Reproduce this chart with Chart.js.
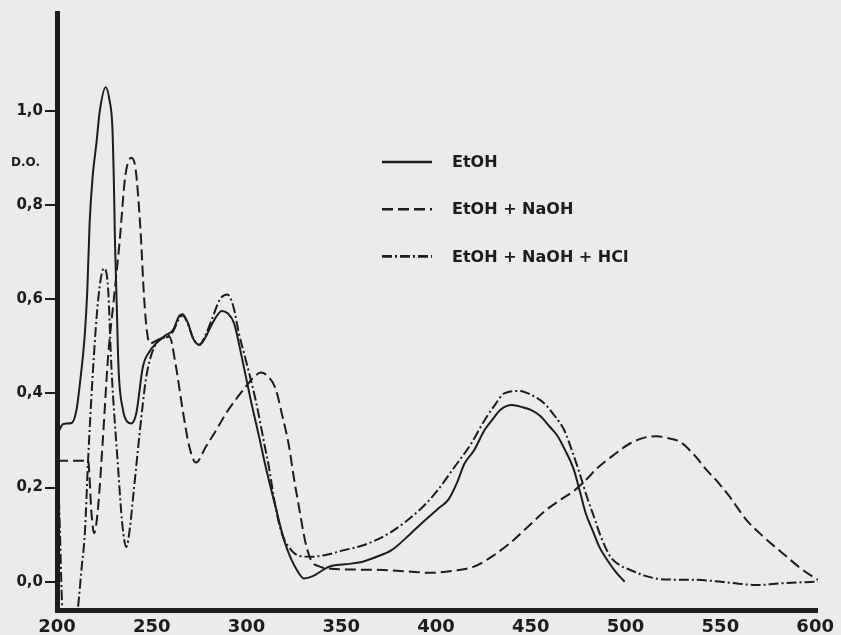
<!DOCTYPE html>
<html>
<head>
<meta charset="utf-8">
<script src="https://cdn.jsdelivr.net/npm/chart.js@4.4.1/dist/chart.umd.min.js"></script>
<style>
  html, body { margin: 0; padding: 0; background: #ebebea; }
  #wrap { width: 841px; height: 635px; }
</style>
</head>
<body>
<div id="wrap"><canvas id="spectre" width="841" height="635"></canvas></div>
<script>
// axes
const X_TICKS = [200, 250, 300, 350, 400, 450, 500, 550, 600];
const Y_TICKS = [0, 0.2, 0.4, 0.6, 0.8, 1.0];

// EtOH (solid)
const ETOH_NM = [200, 203.3, 207.7, 210.3, 212.1, 214.7, 216, 217.2, 218.8, 220.8, 222.6, 225.7, 227.8, 229.2, 230, 230.6, 231.5, 232.5, 234.8, 237, 239.2, 241.8, 245.3, 249, 252.3, 257.6, 261, 264.6, 266.3, 269, 272, 275.1, 278.5, 282, 287, 290, 293.4, 297.8, 302.2, 306.6, 310.1, 315.3, 319, 322.3, 327.6, 330.2, 335, 343.6, 352, 360.8, 368, 376.5, 386, 394, 401, 406.6, 411, 415, 419.9, 425.6, 429.5, 434, 440, 446, 450.5, 455, 460, 464, 468, 472.5, 476, 479, 483, 486, 491, 495, 499.5];
const ETOH_DO = [0.311, 0.335, 0.337, 0.365, 0.421, 0.527, 0.62, 0.76, 0.86, 0.931, 1.0, 1.05, 1.02, 0.966, 0.85, 0.72, 0.59, 0.45, 0.365, 0.34, 0.336, 0.357, 0.456, 0.49, 0.506, 0.524, 0.533, 0.565, 0.568, 0.55, 0.515, 0.503, 0.52, 0.549, 0.575, 0.57, 0.549, 0.471, 0.386, 0.308, 0.244, 0.159, 0.1, 0.06, 0.018, 0.007, 0.012, 0.032, 0.037, 0.042, 0.052, 0.067, 0.1, 0.13, 0.155, 0.175, 0.21, 0.251, 0.278, 0.322, 0.343, 0.365, 0.375, 0.37, 0.364, 0.352, 0.329, 0.31, 0.28, 0.24, 0.19, 0.145, 0.105, 0.075, 0.042, 0.02, 0.0];

// EtOH + NaOH (dashed)
const NAOH_NM = [200, 208, 216.4, 218.2, 219.6, 221.7, 224, 227, 230, 233, 236, 239.2, 241.5, 244, 246, 247.5, 249, 254, 259.3, 262.8, 266.3, 269.8, 273.3, 278.6, 284, 289.1, 294, 299.6, 304, 307.5, 311, 315.3, 319, 322.3, 325, 327.6, 331, 334, 338, 343.6, 355, 372.2, 385, 397, 410, 420, 430, 439, 448, 458, 466, 473.4, 480, 485, 494, 502.5, 510, 516.5, 522, 528.8, 536, 542.8, 549, 555, 563.8, 572.6, 583, 593.5, 601.4];
const NAOH_DO = [0.257, 0.257, 0.257, 0.145, 0.103, 0.159, 0.29, 0.48, 0.6, 0.72, 0.86, 0.9, 0.875, 0.75, 0.6, 0.53, 0.506, 0.515, 0.52, 0.456, 0.365, 0.287, 0.253, 0.287, 0.322, 0.357, 0.385, 0.414, 0.435, 0.444, 0.437, 0.41, 0.35, 0.29, 0.22, 0.16, 0.085, 0.046, 0.033, 0.028, 0.026, 0.025, 0.022, 0.019, 0.024, 0.032, 0.055, 0.082, 0.115, 0.152, 0.175, 0.195, 0.22, 0.241, 0.27, 0.294, 0.306, 0.309, 0.305, 0.297, 0.27, 0.237, 0.21, 0.18, 0.131, 0.096, 0.06, 0.025, 0.004];

// EtOH + NaOH + HCl (dash-dot)
const HCL_NM = [200, 200.8, 201.6, 202.5, 204, 209, 211.2, 213, 214.7, 216.4, 219.1, 221.7, 224.7, 226.9, 228.7, 232.2, 234.5, 236.6, 238.5, 240, 243.6, 247.1, 252.3, 257.6, 261, 264.6, 266.3, 269, 272, 275.1, 278.5, 282, 286, 289.9, 293, 296, 299.6, 304.8, 310, 311.8, 315, 318.8, 322.3, 327.6, 334, 343, 350.3, 362, 376, 392, 400, 409.8, 418, 425.6, 431, 436, 443.9, 450, 457, 462, 467.6, 472, 476.3, 480, 483.3, 487, 492, 497, 502.5, 510, 520, 537.5, 555, 569, 583, 601.4];
const HCL_DO = [0.25, 0.2, 0.1, -0.03, -0.12, -0.12, -0.05, 0.03, 0.103, 0.258, 0.456, 0.598, 0.665, 0.626, 0.456, 0.244, 0.12, 0.074, 0.115, 0.173, 0.315, 0.435, 0.506, 0.52, 0.53, 0.56, 0.565, 0.548, 0.515, 0.503, 0.525, 0.56, 0.6, 0.61, 0.585, 0.527, 0.471, 0.386, 0.28, 0.244, 0.165, 0.1, 0.074, 0.055, 0.053, 0.058, 0.066, 0.078, 0.105, 0.155, 0.19, 0.244, 0.29, 0.343, 0.375, 0.4, 0.405, 0.397, 0.379, 0.355, 0.322, 0.275, 0.223, 0.175, 0.138, 0.095, 0.053, 0.035, 0.025, 0.013, 0.005, 0.004, -0.002, -0.007, -0.003, 0.0];

const INK = '#1c1c1c';
const FONT = 'DejaVu Sans';

function pts(xs, ys) {
  return xs.map((x, i) => ({ x, y: ys[i] }));
}

// hand-lettered annotations: "D.O." and the legend block
const annotations = {
  id: 'annotations',
  afterDatasetsDraw(chart) {
    const ctx = chart.ctx;
    ctx.save();
    ctx.fillStyle = INK;
    ctx.textBaseline = 'middle';
    ctx.font = 'bold 12px "' + FONT + '"';
    ctx.fillText('D.O.', 11, chart.scales.y.getPixelForValue(0.89));

    ctx.font = 'bold 16px "' + FONT + '"';
    chart.data.datasets.forEach((ds, i) => {
      const ly = 162 + i * 47.2;
      ctx.strokeStyle = ds.borderColor;
      ctx.lineWidth = 2.6;
      ctx.setLineDash(ds.borderDash || []);
      ctx.beginPath();
      ctx.moveTo(382, ly);
      ctx.lineTo(432, ly);
      ctx.stroke();
      ctx.setLineDash([]);
      ctx.fillText(ds.label, 452, ly + 1);
    });
    ctx.restore();
  }
};

const line = (label, data, dash) => ({
  label,
  data,
  borderColor: INK,
  borderWidth: 2,
  borderDash: dash,
  pointRadius: 0,
  fill: false,
  cubicInterpolationMode: 'monotone'
});

new Chart(document.getElementById('spectre'), {
  type: 'line',
  data: {
    datasets: [
      line('EtOH', pts(ETOH_NM, ETOH_DO), []),
      line('EtOH + NaOH', pts(NAOH_NM, NAOH_DO), [11, 5]),
      line('EtOH + NaOH + HCl', pts(HCL_NM, HCL_DO), [10, 3, 2, 3])
    ]
  },
  options: {
    responsive: false,
    animation: false,
    devicePixelRatio: 1,
    layout: { padding: { top: 13, right: 19, left: 0, bottom: 0 } },
    plugins: { legend: { display: false }, tooltip: { enabled: false } },
    scales: {
      x: {
        type: 'linear',
        min: 200,
        max: 601.5,
        afterBuildTicks: s => { s.ticks = X_TICKS.map(v => ({ value: v })); },
        afterFit: s => { s.height = 25; },
        grid: { display: false, drawTicks: false },
        border: { display: true, color: INK, width: 5 },
        ticks: { color: INK, font: { family: FONT, size: 18, weight: 'bold' }, padding: 7, maxRotation: 0, autoSkip: false }
      },
      y: {
        type: 'linear',
        min: -0.06,
        max: 1.2074,
        afterBuildTicks: s => { s.ticks = Y_TICKS.map(v => ({ value: v })); },
        afterFit: s => { s.width = 57; },
        grid: { drawOnChartArea: false, tickLength: 12, color: INK, lineWidth: 2 },
        border: { display: true, color: INK, width: 5 },
        ticks: {
          color: INK,
          font: { family: FONT, size: 15, weight: 'bold' },
          padding: 2,
          callback: v => v.toFixed(1).replace('.', ',')
        }
      }
    }
  },
  plugins: [annotations]
});
</script>
</body>
</html>
